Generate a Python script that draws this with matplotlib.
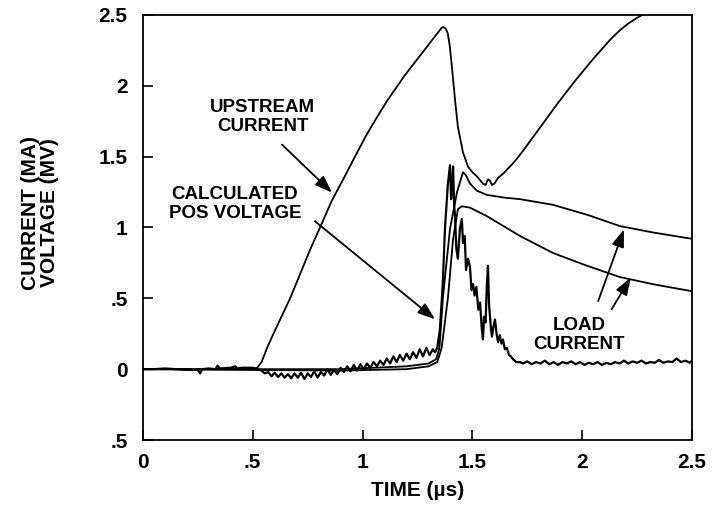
import matplotlib
matplotlib.use('Agg')

import matplotlib.pyplot as plt

plt.rcParams['font.family'] = ['Liberation Sans', 'DejaVu Sans']
plt.rcParams['font.weight'] = 'bold'
plt.rcParams['axes.labelweight'] = 'bold'

# DATA

# upstream current, MA
up_t = [0.00, 0.50, 0.52, 0.54, 0.565, 0.60, 0.67, 0.715, 0.76, 0.806, 0.86,
        0.915, 0.965, 1.02, 1.066, 1.11, 1.15, 1.19, 1.23, 1.27, 1.31, 1.34,
        1.36, 1.368, 1.378, 1.388, 1.397, 1.407, 1.421, 1.434, 1.457, 1.48,
        1.50, 1.521, 1.548, 1.56, 1.571, 1.58, 1.589, 1.60, 1.617, 1.64,
        1.671, 1.70, 1.73, 1.77, 1.81, 1.85, 1.89, 1.93, 1.97, 2.01, 2.05,
        2.09, 2.13, 2.17, 2.21, 2.25, 2.29, 2.35, 2.50]
up_i = [0.00, 0.00, 0.01, 0.05, 0.15, 0.27, 0.50, 0.67, 0.84, 1.00, 1.19,
        1.35, 1.50, 1.66, 1.78, 1.89, 1.98, 2.07, 2.15, 2.23, 2.31, 2.37,
        2.41, 2.415, 2.405, 2.37, 2.28, 2.13, 1.90, 1.71, 1.53, 1.43,
        1.39, 1.36, 1.31, 1.30, 1.34, 1.33, 1.30, 1.31, 1.35, 1.38,
        1.43, 1.48, 1.54, 1.625, 1.71, 1.795, 1.88, 1.96, 2.04, 2.115, 2.19,
        2.26, 2.33, 2.39, 2.44, 2.48, 2.515, 2.56, 2.65]

# load current, upper trace
load1_t = [0.00, 0.52, 0.90, 1.20, 1.30, 1.335, 1.35, 1.366, 1.398, 1.43,
           1.457, 1.47, 1.489, 1.52, 1.566, 1.65, 1.717, 1.867, 2.022,
           2.172, 2.322, 2.50]
load1_i = [0.00, 0.00, 0.00, 0.02, 0.04, 0.07, 0.15, 0.51, 0.99, 1.25,
           1.39, 1.37, 1.31, 1.26, 1.23, 1.21, 1.20, 1.16, 1.09,
           1.01, 0.965, 0.92]

# load current, lower trace
load2_t = [0.00, 0.90, 1.20, 1.30, 1.34, 1.36, 1.389, 1.412, 1.434, 1.453,
           1.489, 1.566, 1.717, 1.867, 2.022, 2.172, 2.322, 2.50]
load2_i = [0.00, -0.01, 0.00, 0.02, 0.05, 0.15, 0.51, 0.92, 1.13, 1.15,
           1.14, 1.08, 0.94, 0.82, 0.73, 0.65, 0.60, 0.55]

# calculated POS voltage, MV (noisy trace)
pos_t = [0.00, 0.05, 0.10, 0.15, 0.20, 0.25, 0.26, 0.27, 0.30, 0.33, 0.34,
         0.35, 0.40, 0.42, 0.43, 0.45, 0.50, 0.52,
         0.54, 0.555, 0.57, 0.585, 0.60, 0.615, 0.63, 0.645, 0.66, 0.675,
         0.69, 0.705, 0.72, 0.735, 0.75, 0.765, 0.78, 0.795, 0.81, 0.825,
         0.84, 0.855, 0.87, 0.885, 0.90,
         0.915, 0.93, 0.945, 0.96, 0.975, 0.99, 1.005, 1.02, 1.035, 1.05,
         1.065, 1.08, 1.095, 1.11, 1.125, 1.14, 1.155, 1.17, 1.185, 1.20,
         1.215, 1.23, 1.245, 1.26, 1.275, 1.29, 1.305, 1.32, 1.33,
         1.34, 1.352, 1.365, 1.375, 1.388, 1.398, 1.403, 1.407, 1.412, 1.417,
         1.42, 1.427, 1.434, 1.443, 1.452, 1.457, 1.465, 1.471, 1.48, 1.489,
         1.496, 1.503, 1.51, 1.518, 1.527, 1.535, 1.542, 1.548, 1.553, 1.56,
         1.566, 1.571, 1.576, 1.58, 1.585, 1.589, 1.596, 1.603, 1.61, 1.617,
         1.625, 1.632, 1.639, 1.648, 1.657, 1.667, 1.675, 1.685, 1.70, 1.717,
         1.73, 1.75, 1.77, 1.79, 1.81, 1.83, 1.85, 1.87, 1.89, 1.91, 1.93,
         1.95, 1.97, 1.99, 2.01, 2.03, 2.05, 2.07, 2.09, 2.11, 2.13, 2.15,
         2.17, 2.19, 2.21, 2.23, 2.25, 2.27, 2.29, 2.31, 2.33, 2.35, 2.37,
         2.39, 2.41, 2.43, 2.45, 2.47, 2.49, 2.50]
pos_v = [0.00, 0.00, 0.005, 0.00, -0.005, -0.005, -0.03, 0.00, 0.005, 0.00, 0.025,
         0.005, 0.01, 0.02, 0.005, 0.01, 0.01, 0.00,
         -0.01, -0.03, -0.02, -0.05, -0.025, -0.055, -0.03, -0.06, -0.035, -0.065,
         -0.03, -0.06, -0.025, -0.07, -0.03, -0.055, -0.015, -0.06, -0.02, -0.045,
         0.00, -0.04, -0.005, -0.035, 0.01,
         -0.02, 0.02, -0.015, 0.03, -0.01, 0.035, 0.00, 0.04, 0.01, 0.05,
         0.02, 0.06, 0.03, 0.075, 0.04, 0.09, 0.05, 0.10, 0.06, 0.11,
         0.07, 0.12, 0.08, 0.14, 0.09, 0.15, 0.10, 0.14, 0.12,
         0.15, 0.28, 0.60, 0.99, 1.30, 1.44, 1.20, 1.27, 1.43, 1.15,
         1.10, 0.85, 0.78, 0.99, 1.06, 0.89, 0.94, 0.70, 0.78, 0.72,
         0.56, 0.60, 0.52, 0.58, 0.42, 0.47, 0.30, 0.21, 0.37, 0.33,
         0.60, 0.73, 0.45, 0.37, 0.28, 0.23, 0.30, 0.35, 0.25, 0.19,
         0.24, 0.18, 0.21, 0.14, 0.15, 0.10, 0.09, 0.07, 0.05, 0.05,
         0.04, 0.055, 0.035, 0.05, 0.04, 0.06, 0.035, 0.05, 0.03, 0.05, 0.04,
         0.055, 0.035, 0.05, 0.03, 0.045, 0.035, 0.05, 0.03, 0.045, 0.035, 0.05,
         0.04, 0.06, 0.04, 0.055, 0.045, 0.06, 0.04, 0.05, 0.045, 0.065, 0.045,
         0.055, 0.05, 0.075, 0.05, 0.06, 0.045, 0.06]

x_ticks = [0, 0.5, 1, 1.5, 2, 2.5]
x_ticklabels = ["0", ".5", "1", "1.5", "2", "2.5"]
y_ticks = [-0.5, 0, 0.5, 1, 1.5, 2, 2.5]
y_ticklabels = [".5", "0", ".5", "1", "1.5", "2", "2.5"]

# PLOT
fig = plt.figure(figsize=(7.16, 5.16), dpi=100)
ax = fig.add_axes([143 / 716, 1 - 440 / 516, 549 / 716, 425 / 516])

LW = 1.3
ax.plot(up_t, up_i, color="k", linewidth=LW)
ax.plot(load1_t, load1_i, color="k", linewidth=LW)
ax.plot(load2_t, load2_i, color="k", linewidth=LW)
ax.plot(pos_t, pos_v, color="k", linewidth=1.6)

ax.set_xlim(0, 2.5)
ax.set_ylim(-0.5, 2.5)
ax.set_xticks(x_ticks)
ax.set_xticklabels(x_ticklabels)
ax.set_yticks(y_ticks)
ax.set_yticklabels(y_ticklabels)
ax.tick_params(direction="in", length=7, width=1.2, labelsize=15)
ax.tick_params(axis="x", pad=9)
ax.tick_params(axis="y", pad=11)
for s in ax.spines.values():
    s.set_linewidth(1.3)

ax.set_xlabel("TIME (µs)", fontsize=15, labelpad=7)
fig.text(40 / 716, 1 - 213 / 516, "CURRENT (MA)\nVOLTAGE (MV)",
         rotation=90, ha="center", va="center", fontsize=15,
         linespacing=1.05, multialignment="center")

# annotations
ann = dict(ha="center", va="center", fontsize=13.5, linespacing=1.15)
ax.text(0.546, 1.778, "UPSTREAM\nCURRENT", **ann)
ax.text(0.419, 1.169, "CALCULATED\nPOS VOLTAGE", **ann)
ax.text(1.985, 0.243, "LOAD\nCURRENT", **ann)

arrow = dict(arrowstyle="-|>,head_length=0.7,head_width=0.25", color="k",
             lw=1.3, mutation_scale=15, shrinkA=0, shrinkB=0)
ax.annotate("", xy=(0.861, 1.246), xytext=(0.633, 1.585), arrowprops=arrow)
ax.annotate("", xy=(1.330, 0.352), xytext=(0.783, 1.044), arrowprops=arrow)
ax.annotate("", xy=(2.190, 0.986), xytext=(2.073, 0.481), arrowprops=arrow)
ax.annotate("", xy=(2.221, 0.646), xytext=(2.134, 0.423), arrowprops=arrow)

fig.savefig("out.png", dpi=100)
